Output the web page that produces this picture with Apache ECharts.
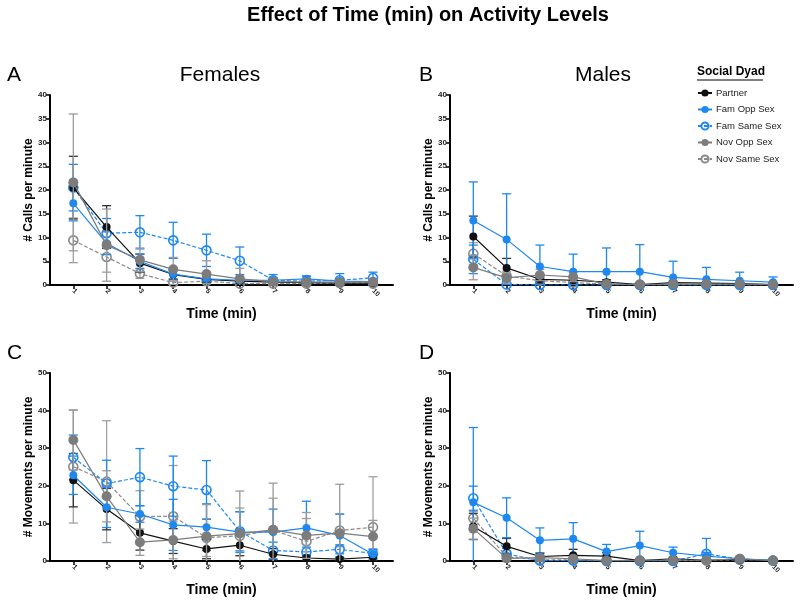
<!DOCTYPE html>
<html>
<head>
<meta charset="utf-8">
<script src="https://cdn.jsdelivr.net/npm/echarts@6/dist/echarts.min.js"></script>
<style>
  html, body { margin: 0; padding: 0; background: #fff; }
  #chart { width: 800px; height: 600px; }
</style>
</head>
<body>
<div id="chart"></div>
<script>
// x categories (minutes)
const minutes = [1, 2, 3, 4, 5, 6, 7, 8, 9, 10];
const groups = ["Partner", "Fam Opp Sex", "Fam Same Sex", "Nov Opp Sex", "Nov Same Sex"];

// A - Females, calls
const aPartner = [20.5, 12.2, 4.6, 2.2, 1.2, 0.8, 0.6, 0.5, 0.4, 0.4];
const aPartnerErr = [6.6, 4.5, 1.9, 1.0, 0.6, 0.4, 0.3, 0.3, 0.2, 0.2];
const aFamOpp = [17.2, 8.8, 5.0, 2.3, 1.3, 1.0, 1.0, 1.3, 0.8, 0.7];
const aFamOppErr = [3.7, 2.4, 1.5, 1.0, 0.6, 0.5, 0.5, 0.6, 0.4, 0.4];
const aFamSame = [20.5, 10.9, 11.1, 9.4, 7.3, 5.1, 1.0, 0.8, 1.0, 1.5];
const aFamSameErr = [4.9, 3.1, 3.5, 3.8, 3.4, 2.9, 1.2, 1.0, 1.4, 1.2];
const aNovOpp = [21.6, 8.4, 5.3, 3.3, 2.3, 1.3, 0.7, 0.6, 0.6, 0.7];
const aNovOppErr = [14.4, 7.6, 2.5, 2.5, 2.8, 2.2, 0.6, 0.5, 0.5, 0.5];
const aNovSame = [9.4, 5.9, 2.4, 0.5, 0.8, 0.3, 0.3, 0.3, 0.4, 0.3];
const aNovSameErr = [4.7, 3.2, 1.0, 0.4, 0.5, 0.3, 0.2, 0.2, 0.3, 0.2];

// B - Males, calls
const bPartner = [10.2, 3.6, 1.2, 1.0, 0.6, 0.1, 0.5, 0.4, 0.3, 0.1];
const bPartnerErr = [4.3, 2.0, 0.8, 0.6, 0.5, 0.1, 0.3, 0.3, 0.2, 0.1];
const bFamOpp = [13.6, 9.6, 3.9, 2.8, 2.8, 2.8, 1.6, 1.2, 0.9, 0.6];
const bFamOppErr = [8.1, 9.6, 4.5, 3.7, 5.0, 5.7, 3.4, 2.5, 1.8, 1.1];
const bFamSame = [5.4, 0.1, 0, 0, 0, 0, 0, 0, 0, 0];
const bFamSameErr = [3.0, 0.1, 0, 0, 0, 0, 0, 0, 0, 0];
const bNovOpp = [3.7, 1.5, 2.1, 1.7, 0.2, 0.1, 0.2, 0.2, 0.2, 0.1];
const bNovOppErr = [2.6, 1.0, 1.2, 1.0, 0.2, 0.1, 0.1, 0.1, 0.1, 0.1];
const bNovSame = [6.6, 1.9, 0.9, 0.5, 0.2, 0.1, 0.1, 0.1, 0.1, 0.1];
const bNovSameErr = [2.3, 1.0, 0.6, 0.4, 0.2, 0.1, 0.1, 0.1, 0.1, 0.1];

// C - Females, movements
const cPartner = [21.5, 13.8, 7.5, 5.3, 3.2, 4.2, 1.8, 0.8, 0.5, 1.0];
const cPartnerErr = [7.1, 5.5, 4.6, 3.3, 2.6, 2.8, 1.5, 0.6, 0.4, 0.8];
const cFamOpp = [22.8, 14.3, 12.5, 9.6, 9.0, 7.7, 7.7, 8.8, 6.8, 1.8];
const cFamOppErr = [5.1, 5.4, 2.2, 6.8, 6.2, 5.4, 6.1, 7.1, 5.7, 1.2];
const cFamSame = [27.6, 20.6, 22.3, 19.9, 18.9, 7.9, 2.8, 2.4, 3.1, 2.0];
const cFamSameErr = [5.9, 6.2, 7.6, 8.0, 7.8, 5.2, 2.2, 1.3, 1.2, 1.2];
const cNovOpp = [32.2, 17.2, 5.0, 5.6, 6.6, 7.3, 8.3, 6.8, 7.4, 6.5];
const cNovOppErr = [8.0, 6.8, 3.5, 5.0, 8.4, 11.3, 12.4, 6.1, 13.0, 4.3];
const cNovSame = [25.1, 21.1, 11.8, 11.9, 6.2, 6.7, 8.2, 5.2, 8.1, 9.0];
const cNovSameErr = [15.0, 16.2, 6.9, 13.5, 5.0, 7.4, 8.5, 6.1, 4.3, 13.4];

// D - Males, movements
const dPartner = [9.2, 3.9, 1.2, 1.5, 1.3, 0.1, 0.6, 0.2, 0.4, 0.1];
const dPartnerErr = [3.5, 2.1, 0.8, 1.6, 0.9, 0.1, 0.4, 0.2, 0.3, 0.1];
const dFamOpp = [15.6, 11.5, 5.5, 5.9, 2.5, 4.1, 2.2, 1.3, 0.6, 0.2];
const dFamOppErr = [19.9, 5.3, 3.3, 4.3, 1.9, 3.8, 1.5, 1.0, 0.3, 0.1];
const dFamSame = [16.7, 1.9, 0.1, 0.1, 0, 0, 0, 1.9, 0.5, 0.1];
const dFamSameErr = [3.2, 1.5, 0.1, 0.1, 0, 0, 0, 4.1, 0.3, 0.1];
const dNovOpp = [8.6, 0.7, 0.9, 0.6, 0.1, 0.2, 0.2, 0.2, 0.6, 0.1];
const dNovOppErr = [2.8, 0.5, 0.6, 0.5, 0.1, 0.1, 0.1, 0.1, 0.3, 0.1];
const dNovSame = [11.4, 1.1, 0.3, 0.3, 0.1, 0.1, 0.1, 0.1, 0.3, 0.1];
const dNovSameErr = [1.8, 0.8, 0.2, 0.2, 0.1, 0.1, 0.1, 0.1, 0.2, 0.1];

const FONT = "Arial, 'Liberation Sans', sans-serif";
const BLUE = "#1e88f0";

// style per group: colour, error colour, dashed, open marker, size
const looks = [
  { color: "#111111", err: "#333333", dashed: false, open: false, size: 8, z: 4 },
  { color: BLUE, err: BLUE, dashed: false, open: false, size: 8, z: 5 },
  { color: BLUE, err: BLUE, dashed: true, open: true, size: 9, z: 3 },
  { color: "#7c7c7c", err: "#9a9a9a", dashed: false, open: false, size: 10, z: 6 },
  { color: "#8a8a8a", err: "#a0a0a0", dashed: true, open: true, size: 9, z: 2 },
];

const panels = [
  { means: [aPartner, aFamOpp, aFamSame, aNovOpp, aNovSame], errs: [aPartnerErr, aFamOppErr, aFamSameErr, aNovOppErr, aNovSameErr] },
  { means: [bPartner, bFamOpp, bFamSame, bNovOpp, bNovSame], errs: [bPartnerErr, bFamOppErr, bFamSameErr, bNovOppErr, bNovSameErr] },
  { means: [cPartner, cFamOpp, cFamSame, cNovOpp, cNovSame], errs: [cPartnerErr, cFamOppErr, cFamSameErr, cNovOppErr, cNovSameErr] },
  { means: [dPartner, dFamOpp, dFamSame, dNovOpp, dNovSame], errs: [dPartnerErr, dFamOppErr, dFamSameErr, dNovOppErr, dNovSameErr] },
];

const grids = [
  { left: 50, top: 95, width: 343, height: 190 },
  { left: 450, top: 95, width: 343, height: 190 },
  { left: 50, top: 373, width: 343, height: 188 },
  { left: 450, top: 373, width: 343, height: 188 },
];

const xAxes = grids.map((g, i) => ({
  type: "value",
  gridIndex: i,
  min: 0.3,
  max: 10.6,
  name: "Time (min)",
  nameLocation: "middle",
  nameGap: 22,
  nameTextStyle: { fontFamily: FONT, fontSize: 14, fontWeight: "bold", color: "#000" },
  splitLine: { show: false },
  axisLine: { onZero: false, lineStyle: { color: "#000", width: 2 } },
  axisTick: { customValues: minutes, length: 4, lineStyle: { color: "#000", width: 1.5 } },
  axisLabel: {
    customValues: minutes,
    rotate: -45,
    margin: 5,
    fontFamily: FONT,
    fontSize: 7,
    fontWeight: "bold",
    color: "#222",
  },
}));

const yAxes = grids.map((g, i) => ({
  type: "value",
  gridIndex: i,
  min: 0,
  max: i < 2 ? 40 : 50,
  interval: i < 2 ? 5 : 10,
  name: i < 2 ? "# Calls per minute" : "# Movements per minute",
  nameLocation: "middle",
  nameGap: 12,
  nameTextStyle: { fontFamily: FONT, fontSize: 12, fontWeight: "bold", color: "#000" },
  splitLine: { show: false },
  axisLine: { show: true, lineStyle: { color: "#000", width: 2 } },
  axisTick: { show: true, length: 4, lineStyle: { color: "#000", width: 1.5 } },
  axisLabel: { margin: 3, fontFamily: FONT, fontSize: 8, fontWeight: "bold", color: "#222" },
}));

function errorSeries(p, k) {
  const look = looks[k];
  const means = panels[p].means[k];
  const errs = panels[p].errs[k];
  return {
    type: "custom",
    xAxisIndex: p,
    yAxisIndex: p,
    silent: true,
    clip: true,
    z: look.z,
    data: minutes.map((m, i) => [m, means[i] - errs[i], means[i] + errs[i]]),
    renderItem(params, api) {
      const x = api.value(0);
      const lo = api.coord([x, api.value(1)]);
      const hi = api.coord([x, api.value(2)]);
      const cw = 4.5;
      const style = { stroke: look.err, lineWidth: 1.3 };
      return {
        type: "group",
        children: [
          { type: "line", shape: { x1: lo[0], y1: lo[1], x2: hi[0], y2: hi[1] }, style },
          { type: "line", shape: { x1: lo[0] - cw, y1: lo[1], x2: lo[0] + cw, y2: lo[1] }, style },
          { type: "line", shape: { x1: hi[0] - cw, y1: hi[1], x2: hi[0] + cw, y2: hi[1] }, style },
        ],
      };
    },
  };
}

function lineSeries(p, k) {
  const look = looks[k];
  return {
    type: "line",
    name: groups[k],
    xAxisIndex: p,
    yAxisIndex: p,
    z: look.z + 1,
    symbol: "circle",
    symbolSize: look.size,
    showSymbol: true,
    data: minutes.map((m, i) => [m, panels[p].means[k][i]]),
    lineStyle: { color: look.color, width: 1.2, type: look.dashed ? [4, 2] : "solid" },
    itemStyle: look.open
      ? { color: "rgba(255,255,255,0)", borderColor: look.color, borderWidth: 1.6 }
      : { color: look.color, borderColor: look.color, borderWidth: 0 },
    emphasis: { disabled: true },
  };
}

const series = [];
panels.forEach((pan, p) => {
  [4, 2, 0, 1, 3].forEach((k) => series.push(errorSeries(p, k)));
  [4, 2, 0, 1, 3].forEach((k) => series.push(lineSeries(p, k)));
});

const bigText = { fontFamily: FONT, fontSize: 21, fontWeight: "normal", color: "#000" };

const option = {
  animation: false,
  backgroundColor: "#fff",
  title: [
    { text: "Effect of Time (min) on Activity Levels", left: 423, top: 0, textAlign: "center",
      textStyle: { fontFamily: FONT, fontSize: 20, fontWeight: "bold", color: "#000" } },
    { text: "A", left: 2, top: 60, textStyle: bigText },
    { text: "Females", left: 215, top: 60, textAlign: "center", textStyle: bigText },
    { text: "B", left: 414, top: 60, textStyle: bigText },
    { text: "Males", left: 598, top: 60, textAlign: "center", textStyle: bigText },
    { text: "C", left: 2, top: 338, textStyle: bigText },
    { text: "D", left: 414, top: 338, textStyle: bigText },
  ],
  legend: {
    data: groups,
    orient: "vertical",
    left: 692,
    top: 83,
    itemWidth: 14,
    itemHeight: 9,
    itemGap: 6.5,
    selectedMode: false,
    textStyle: { fontFamily: FONT, fontSize: 9.5, color: "#222", padding: [0, 0, 0, -1] },
  },
  graphic: [
    { type: "text", left: 697, top: 66,
      style: { text: "Social Dyad", fontFamily: FONT, fontSize: 12, fontWeight: "bold", fill: "#000" } },
    { type: "line", shape: { x1: 697, y1: 80, x2: 763, y2: 80 }, style: { stroke: "#000", lineWidth: 1 } },
  ],
  grid: grids,
  xAxis: xAxes,
  yAxis: yAxes,
  series: series,
};

const chart = echarts.init(document.getElementById("chart"));
chart.setOption(option);
</script>
</body>
</html>
